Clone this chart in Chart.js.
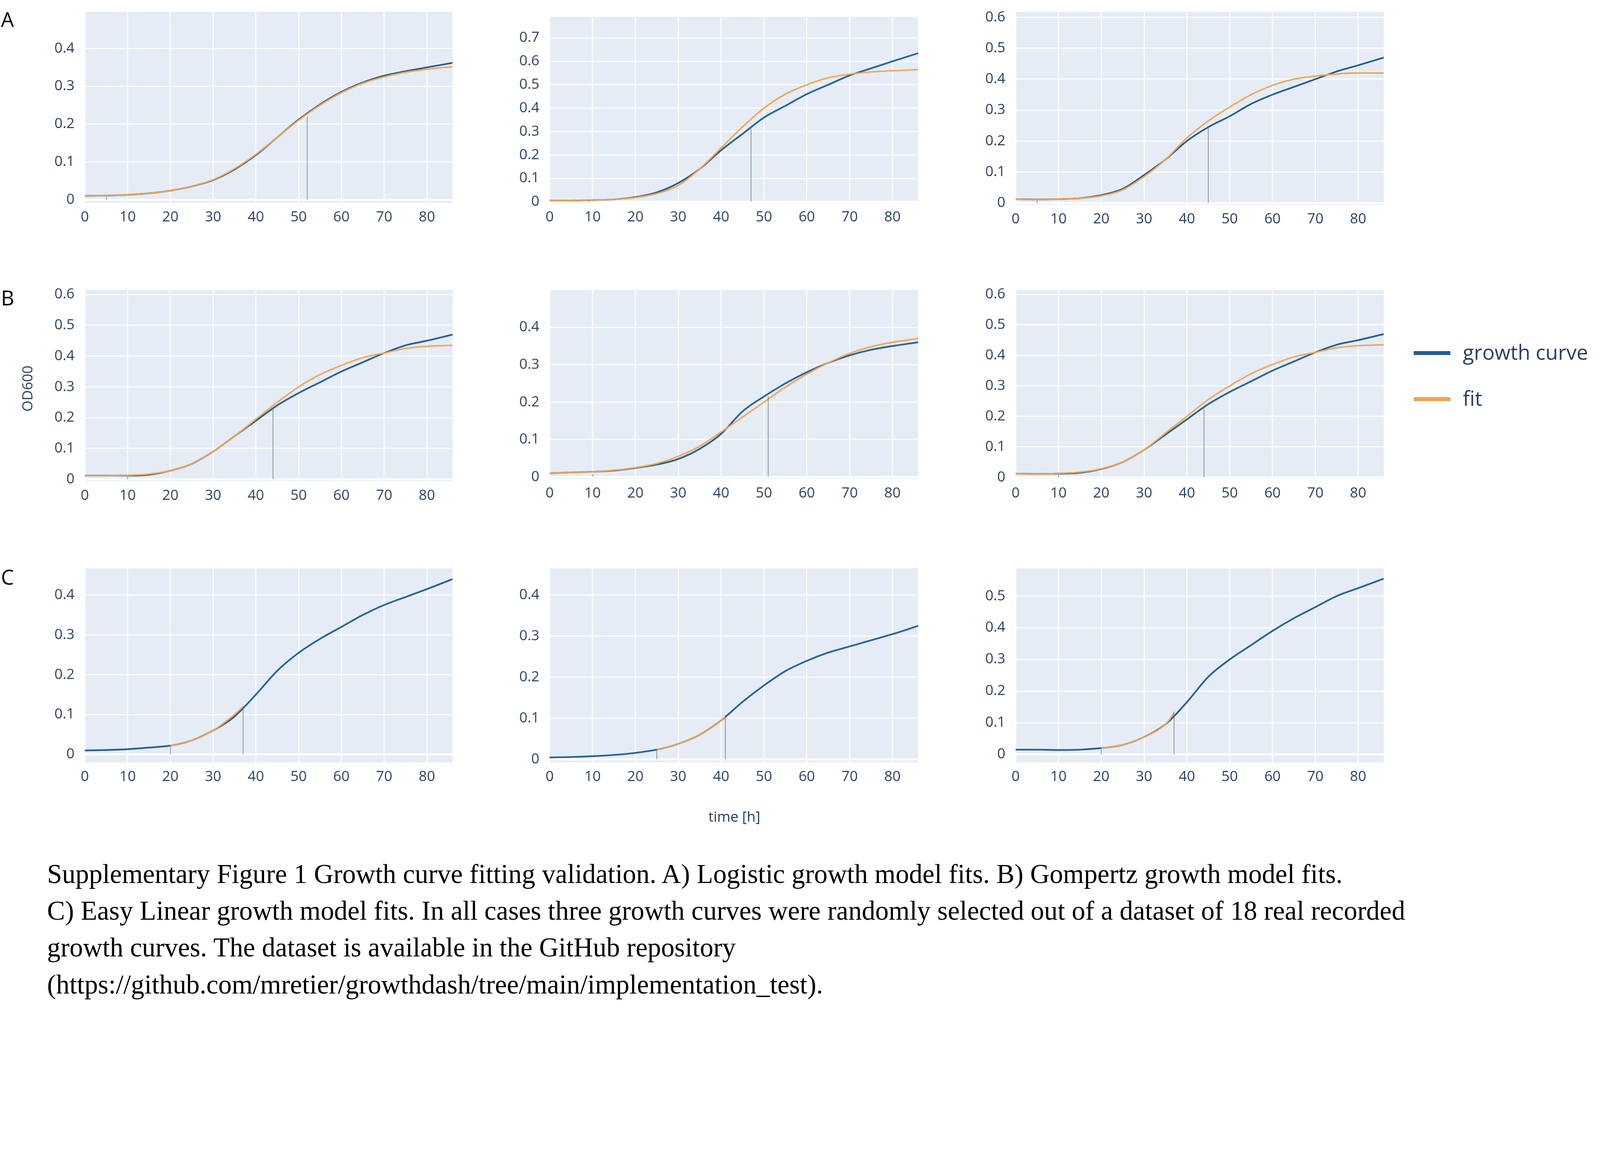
<!DOCTYPE html>
<html>
<head>
<meta charset="utf-8">
<script src="https://cdn.jsdelivr.net/npm/chart.js@4.4.1/dist/chart.umd.min.js"></script>
<style>
  html, body { margin: 0; padding: 0; background: #fff; overflow: hidden; }
  #page { position: relative; overflow: hidden; font-family: "Open Sans", sans-serif; }
  canvas, .lbl { position: absolute; }
  .lbl { color: #2a3f5f; white-space: nowrap; }
  .cap { position: absolute; font-family: "Liberation Serif", "Times New Roman", serif; color: #000; white-space: nowrap; }
</style>
</head>
<body>
<div id="page"></div>
<script>
// reference laid out at 1563 x 980, scaled to whatever the viewport is
const S = Math.min(window.innerWidth / 1563, window.innerHeight / 980);
const DPR = window.devicePixelRatio || 1;

const T = [0, 5, 10, 15, 20, 25, 30, 35, 40, 45, 50, 55, 60, 65, 70, 75, 80, 86];
const xTicks = [0, 10, 20, 30, 40, 50, 60, 70, 80];

const a1Curve = [0.01, 0.011, 0.013, 0.017, 0.024, 0.035, 0.052, 0.08, 0.118, 0.165, 0.212, 0.252, 0.285, 0.31, 0.328, 0.34, 0.35, 0.362];
const a1Fit   = [0.01, 0.011, 0.013, 0.017, 0.024, 0.035, 0.053, 0.082, 0.12, 0.165, 0.21, 0.25, 0.283, 0.308, 0.325, 0.337, 0.345, 0.352];
const a2Curve = [0.005, 0.005, 0.007, 0.01, 0.02, 0.04, 0.08, 0.14, 0.22, 0.29, 0.36, 0.41, 0.46, 0.5, 0.54, 0.57, 0.6, 0.635];
const a2Fit   = [0.004, 0.005, 0.007, 0.01, 0.018, 0.035, 0.07, 0.14, 0.23, 0.32, 0.4, 0.46, 0.5, 0.53, 0.545, 0.555, 0.56, 0.565];
const a3Curve = [0.012, 0.011, 0.012, 0.015, 0.025, 0.045, 0.09, 0.14, 0.2, 0.245, 0.28, 0.32, 0.35, 0.375, 0.4, 0.425, 0.445, 0.47];
const a3Fit   = [0.012, 0.011, 0.012, 0.015, 0.023, 0.042, 0.085, 0.14, 0.21, 0.265, 0.31, 0.35, 0.38, 0.4, 0.41, 0.417, 0.42, 0.42];
const b1Curve = [0.012, 0.012, 0.012, 0.015, 0.028, 0.05, 0.09, 0.14, 0.19, 0.24, 0.28, 0.315, 0.35, 0.38, 0.41, 0.435, 0.45, 0.47];
const b1Fit   = [0.012, 0.012, 0.013, 0.017, 0.028, 0.05, 0.09, 0.14, 0.195, 0.25, 0.3, 0.34, 0.37, 0.395, 0.41, 0.425, 0.432, 0.435];
const b2Curve = [0.01, 0.012, 0.014, 0.017, 0.024, 0.033, 0.048, 0.075, 0.115, 0.175, 0.215, 0.25, 0.28, 0.305, 0.325, 0.34, 0.35, 0.36];
const b2Fit   = [0.01, 0.012, 0.014, 0.018, 0.025, 0.036, 0.055, 0.082, 0.12, 0.16, 0.2, 0.24, 0.275, 0.305, 0.33, 0.348, 0.36, 0.37];
const b3Curve = [0.012, 0.011, 0.012, 0.015, 0.027, 0.05, 0.09, 0.14, 0.19, 0.24, 0.28, 0.315, 0.35, 0.38, 0.41, 0.435, 0.45, 0.47];
const b3Fit   = [0.012, 0.011, 0.013, 0.017, 0.028, 0.05, 0.09, 0.145, 0.2, 0.255, 0.3, 0.34, 0.37, 0.395, 0.41, 0.425, 0.432, 0.435];
const c1Curve = [0.01, 0.011, 0.013, 0.017, 0.022, 0.035, 0.06, 0.095, 0.15, 0.21, 0.255, 0.29, 0.32, 0.35, 0.375, 0.395, 0.415, 0.44];
const c2Curve = [0.005, 0.006, 0.008, 0.011, 0.016, 0.024, 0.038, 0.06, 0.095, 0.14, 0.18, 0.215, 0.24, 0.26, 0.275, 0.29, 0.305, 0.325];
const c3Curve = [0.015, 0.015, 0.014, 0.015, 0.02, 0.03, 0.055, 0.095, 0.165, 0.245, 0.3, 0.345, 0.39, 0.43, 0.465, 0.5, 0.525, 0.555];
// easy linear fits only cover the fitted window
const c1FitT = [20, 25, 30, 35, 37];  const c1Fit = [0.022, 0.035, 0.06, 0.1, 0.12];
const c2FitT = [25, 30, 35, 40, 41];  const c2Fit = [0.024, 0.038, 0.06, 0.095, 0.105];
const c3FitT = [20, 25, 30, 35, 37];  const c3Fit = [0.02, 0.03, 0.055, 0.095, 0.13];

// marker lines: [time, height]
const a1Marks = [[5, 0.008], [52, 0.22]];
const a2Marks = [[9, 0.008], [47, 0.32]];
const a3Marks = [[5, 0.008], [45, 0.245]];
const b1Marks = [[10, 0.008], [44, 0.23]];
const b2Marks = [[10, 0.008], [51, 0.215]];
const b3Marks = [[10, 0.008], [44, 0.23]];
const c1Marks = [[20, 0.022], [37, 0.12]];
const c2Marks = [[25, 0.024], [41, 0.108]];
const c3Marks = [[20, 0.02], [37, 0.135]];

const yTicks4 = [0, 0.1, 0.2, 0.3, 0.4];
const yTicks5 = [0, 0.1, 0.2, 0.3, 0.4, 0.5];
const yTicks6 = [0, 0.1, 0.2, 0.3, 0.4, 0.5, 0.6];
const yTicks7 = [0, 0.1, 0.2, 0.3, 0.4, 0.5, 0.6, 0.7];

const BLUE = "#1f5d92";
const ORANGE = "#f4a24e";

const panels = [
  { rect: [83, 5, 442, 198],   y: [-0.008, 0.497], yt: yTicks4, c: a1Curve, f: a1Fit, fT: T, m: a1Marks },
  { rect: [537, 10, 897, 198], y: [-0.004, 0.79],  yt: yTicks7, c: a2Curve, f: a2Fit, fT: T, m: a2Marks },
  { rect: [992, 5, 1352, 200], y: [-0.006, 0.618], yt: yTicks6, c: a3Curve, f: a3Fit, fT: T, m: a3Marks },
  { rect: [83, 277, 442, 470], y: [-0.006, 0.615], yt: yTicks6, c: b1Curve, f: b1Fit, fT: T, m: b1Marks },
  { rect: [537, 277, 897, 468], y: [-0.005, 0.5],  yt: yTicks4, c: b2Curve, f: b2Fit, fT: T, m: b2Marks },
  { rect: [992, 277, 1352, 468], y: [-0.005, 0.615], yt: yTicks6, c: b3Curve, f: b3Fit, fT: T, m: b3Marks },
  { rect: [83, 549, 442, 745], y: [-0.02, 0.467], yt: yTicks4, c: c1Curve, f: c1Fit, fT: c1FitT, m: c1Marks },
  { rect: [537, 549, 897, 745], y: [-0.007, 0.465], yt: yTicks4, c: c2Curve, f: c2Fit, fT: c2FitT, m: c2Marks },
  { rect: [992, 549, 1352, 745], y: [-0.025, 0.5875], yt: yTicks5, c: c3Curve, f: c3Fit, fT: c3FitT, m: c3Marks }
];

const page = document.getElementById("page");
page.style.width = (1563 * S) + "px";
page.style.height = (980 * S) + "px";
const YW = 50, XH = 32, PADR = 12, PADT = 12;

panels.forEach(p => {
  const [l, t, r, b] = p.rect;
  const cv = document.createElement("canvas");
  const w = (r - l + YW + PADR) * S, h = (b - t + XH + PADT) * S;
  cv.width = w; cv.height = h;
  cv.style.left = ((l - YW) * S) + "px";
  cv.style.top = ((t - PADT) * S) + "px";
  cv.style.width = w + "px"; cv.style.height = h + "px";
  page.appendChild(cv);

  const datasets = [
    { data: T.map((x, i) => ({ x: x, y: p.c[i] })), borderColor: BLUE, borderWidth: 1.6 * S, order: 2 },
    { data: p.fT.map((x, i) => ({ x: x, y: p.f[i] })), borderColor: ORANGE, borderWidth: 1.4 * S, order: 1 }
  ];
  p.m.forEach(([x, y]) => {
    datasets.push({ data: [{ x: x, y: 0 }, { x: x, y: y }], borderColor: "#666", borderWidth: 0.5 * S, tension: 0, order: 0 });
  });

  new Chart(cv, {
    type: "line",
    data: { datasets: datasets },
    plugins: [{
      id: "bg",
      beforeDraw(chart) {
        const a = chart.chartArea, ctx = chart.ctx;
        ctx.save(); ctx.fillStyle = "#e5ecf6";
        ctx.fillRect(a.left, a.top, a.right - a.left, a.bottom - a.top); ctx.restore();
      }
    }],
    options: {
      responsive: false, animation: false, devicePixelRatio: DPR,
      layout: { padding: { top: PADT * S, right: PADR * S, left: 0, bottom: 0 } },
      elements: { point: { radius: 0 }, line: { tension: 0.4, cubicInterpolationMode: "monotone" } },
      plugins: { legend: { display: false }, tooltip: { enabled: false } },
      scales: {
        x: {
          type: "linear", min: 0, max: 86,
          afterFit: s => { s.height = XH * S; },
          afterBuildTicks: s => { s.ticks = xTicks.map(v => ({ value: v })); },
          grid: { color: "#ffffff", lineWidth: S, drawTicks: false },
          border: { display: false },
          ticks: { color: "#2a3f5f", font: { family: "Open Sans", size: 14 * S }, padding: 6 * S, maxRotation: 0 }
        },
        y: {
          type: "linear", min: p.y[0], max: p.y[1],
          afterFit: s => { s.width = YW * S; },
          afterBuildTicks: s => { s.ticks = p.yt.map(v => ({ value: v })); },
          grid: { color: "#ffffff", lineWidth: c => (c.tick && c.tick.value === 0 ? 2 * S : S), drawTicks: false },
          border: { display: false },
          ticks: { color: "#2a3f5f", font: { family: "Open Sans", size: 14 * S }, padding: 10 * S,
                   callback: v => (v === 0 ? "0" : v.toFixed(1)) }
        }
      }
    }
  });
});

function addText(txt, x, y, size, cls, extra) {
  const d = document.createElement("div");
  d.className = cls || "lbl";
  d.textContent = txt;
  d.style.left = (x * S) + "px";
  d.style.top = (y * S) + "px";
  d.style.fontSize = (size * S) + "px";
  if (extra) Object.assign(d.style, extra);
  page.appendChild(d);
  return d;
}

addText("A", 1, 5, 20, "lbl", { color: "#000" });
addText("B", 1, 277, 20, "lbl", { color: "#000" });
addText("C", 1, 550, 20, "lbl", { color: "#000" });
addText("time [h]", 692, 788, 14);
addText("OD600", 0, 370, 14, "lbl", { transform: "rotate(-90deg)", transformOrigin: "center center", left: (4 * S) + "px" });

// legend
[["growth curve", BLUE, 345], ["fit", ORANGE, 390]].forEach(([name, col, y]) => {
  const line = document.createElement("div");
  line.style.position = "absolute";
  line.style.left = (1381 * S) + "px";
  line.style.top = ((y - 2) * S) + "px";
  line.style.width = (36 * S) + "px";
  line.style.height = (4 * S) + "px";
  line.style.background = col;
  page.appendChild(line);
  addText(name, 1429, y - 15, 20);
});

const captionLines = [
  "Supplementary Figure 1 Growth curve fitting validation. A) Logistic growth model fits. B) Gompertz growth model fits.",
  "C) Easy Linear growth model fits. In all cases three growth curves were randomly selected out of a dataset of 18 real recorded",
  "growth curves. The dataset is available in the GitHub repository",
  "(https://github.com/mretier/growthdash/tree/main/implementation_test)."
];
captionLines.forEach((ln, i) => addText(ln, 46, 839 + i * 36, 26.3, "cap"));
</script>
</body>
</html>
